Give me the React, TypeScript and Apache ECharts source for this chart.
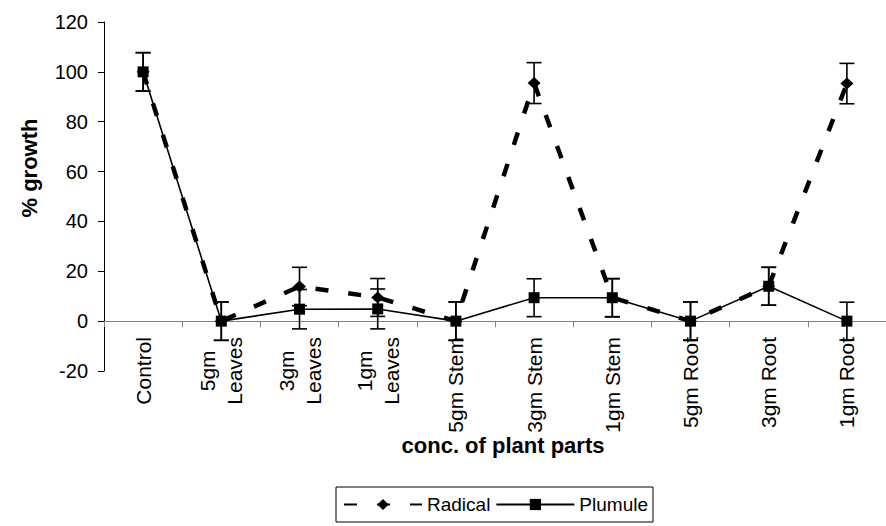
import React, { useEffect, useRef } from "react";
import * as echarts from "echarts";

const categories = [
  "Control",
  "5gm\nLeaves",
  "3gm\nLeaves",
  "1gm\nLeaves",
  "5gm Stem",
  "3gm Stem",
  "1gm Stem",
  "5gm Root",
  "3gm Root",
  "1gm Root",
];
const radical = [100, 0, 13.9, 9.5, 0, 95.5, 9.4, 0, 14, 95.3];
const radicalErr = [7.7, 7.7, 7.7, 7.6, 7.7, 8.2, 7.6, 7.7, 7.6, 8.1];
const plumule = [100, 0, 4.8, 4.9, 0, 9.4, 9.4, 0, 14, 0];
const plumuleErr = [7.7, 7.7, 7.9, 8, 7.7, 7.6, 7.7, 7.7, 7.6, 7.6];
const yTicks = { min: -20, max: 120, interval: 20 };
const xTitle = "conc. of plant parts";
const yTitle = "% growth";

const FONT = "'Liberation Sans', Arial, Helvetica, sans-serif";

function errData(vals: number[], errs: number[]) {
  return vals.map((v, i) => [i, v - errs[i], v + errs[i]]);
}

function errorSeries(name: string, vals: number[], errs: number[]) {
  return {
    type: "custom",
    name,
    data: errData(vals, errs),
    encode: { x: 0, y: [1, 2] },
    z: 3,
    renderItem: (params: any, api: any) => {
      const x = api.value(0);
      const lo = api.coord([x, api.value(1)]);
      const hi = api.coord([x, api.value(2)]);
      const hw = 7.5;
      const style = { stroke: "#000", lineWidth: 1.6 };
      return {
        type: "group",
        children: [
          { type: "line", shape: { x1: hi[0], y1: hi[1], x2: lo[0], y2: lo[1] }, style },
          { type: "line", shape: { x1: hi[0] - hw, y1: hi[1], x2: hi[0] + hw, y2: hi[1] }, style },
          { type: "line", shape: { x1: lo[0] - hw, y1: lo[1], x2: lo[0] + hw, y2: lo[1] }, style },
        ],
      };
    },
  };
}

export default function App() {
  const ref = useRef<HTMLDivElement>(null);
  useEffect(() => {
    if (!ref.current) return;
    const chart = echarts.init(ref.current, null, { renderer: "svg" });
    chart.setOption({
      animation: false,
      backgroundColor: "#fff",
      textStyle: { fontFamily: FONT },
      grid: { left: 104, top: 22, bottom: 155, right: -12, containLabel: false },
      xAxis: {
        type: "category",
        data: categories,
        boundaryGap: true,
        axisLine: { onZero: true, lineStyle: { color: "#808080", width: 1 } },
        axisTick: { show: true, length: 6, alignWithLabel: false, lineStyle: { color: "#808080" } },
        axisLabel: {
          rotate: 90,
          margin: -34,
          interval: 0,
          color: "#000",
          fontFamily: FONT,
          fontSize: 21,
          formatter: (v: string) =>
            v
              .split("\n")
              .map((s) => `{c|${s}}`)
              .join("\n"),
          rich: { c: { align: "center", fontFamily: FONT, fontSize: 21, color: "#000", lineHeight: 27 } },
        },
        splitLine: { show: false },
      },
      yAxis: {
        type: "value",
        min: yTicks.min,
        max: yTicks.max,
        interval: yTicks.interval,
        axisLine: { show: true, lineStyle: { color: "#000", width: 1 } },
        axisTick: { show: true, length: 6, lineStyle: { color: "#000" } },
        axisLabel: { margin: 16, color: "#000", fontFamily: FONT, fontSize: 20 },
        splitLine: { show: false },
      },
      legend: {
        data: ["Radical", "Plumule"],
        left: 336,
        top: 487,
        orient: "horizontal",
        padding: [8, 5, 8, 7],
        itemGap: 5,
        itemWidth: 78,
        itemHeight: 14,
        borderColor: "#000",
        borderWidth: 1,
        textStyle: { fontFamily: FONT, fontSize: 19, color: "#000" },
      },
      graphic: [
        {
          type: "text",
          x: 29,
          y: 168,
          rotation: Math.PI / 2,
          style: {
            text: yTitle,
            fontFamily: FONT,
            fontSize: 22,
            fontWeight: "bold",
            fill: "#000",
            align: "center",
            verticalAlign: "middle",
          },
        },
        {
          type: "text",
          x: 503,
          y: 445,
          style: {
            text: xTitle,
            fontFamily: FONT,
            fontSize: 22,
            fontWeight: "bold",
            fill: "#000",
            align: "center",
            verticalAlign: "middle",
          },
        },
      ],
      series: [
        errorSeries("PlumuleErr", plumule, plumuleErr),
        errorSeries("RadicalErr", radical, radicalErr),
        {
          type: "line",
          name: "Plumule",
          data: plumule,
          symbol: "rect",
          symbolSize: 11,
          z: 4,
          lineStyle: { color: "#000", width: 1.6, type: "solid" },
          itemStyle: { color: "#000" },
        },
        {
          type: "line",
          name: "Radical",
          data: radical,
          symbol: "diamond",
          symbolSize: [13, 12],
          z: 5,
          lineStyle: { color: "#000", width: 4.5, type: [13, 20] },
          itemStyle: { color: "#000" },
        },
      ],
    });
    return () => chart.dispose();
  }, []);
  return (
    <div
      ref={ref}
      style={{ position: "absolute", left: 0, top: 0, width: 886, height: 526, background: "#fff" }}
    />
  );
}
